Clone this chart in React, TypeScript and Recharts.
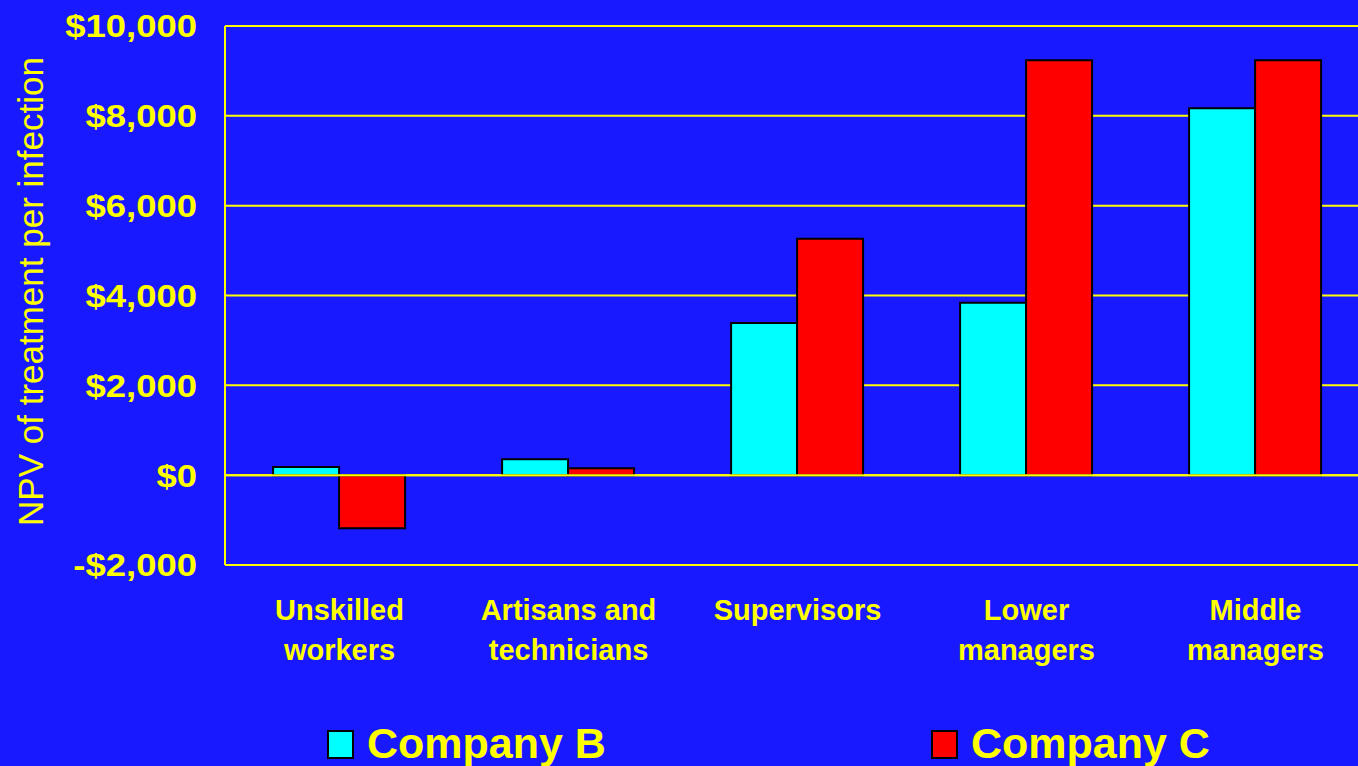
import React from 'react';
import { BarChart, Bar, XAxis, YAxis, CartesianGrid, Legend, ReferenceLine } from 'recharts';

const categories = ['Unskilled\nworkers', 'Artisans and\ntechnicians', 'Supervisors', 'Lower\nmanagers', 'Middle\nmanagers'];
const companyB = [180, 355, 3390, 3840, 8170];
const companyC = [-1180, 155, 5265, 9240, 9240];
const yTicks = [-2000, 0, 2000, 4000, 6000, 8000, 10000];
const seriesNames = ['Company B', 'Company C'];

const BG = '#1919FF';
const YEL = '#FFFF00';
const FONT = '"Liberation Sans", Arial, sans-serif';

const data = categories.map((c, i) => ({ cat: c, b: companyB[i], c: companyC[i] }));

const fmt = (v: number) => (v < 0 ? `-$${Math.abs(v).toLocaleString('en-US')}` : `$${v.toLocaleString('en-US')}`);

const XTick = (props: any) => {
  const { x, y, payload } = props;
  const lines = String(payload.value).split('\n');
  return (
    <g>
      {lines.map((l, i) => (
        <text key={i} x={x} y={y + 55 + i * 40} textAnchor="middle" fill={YEL} fontSize={29} fontWeight="bold" fontFamily={FONT}>
          {l}
        </text>
      ))}
    </g>
  );
};

const YTick = (props: any) => {
  const { x, y, payload } = props;
  return (
    <g transform={`translate(${x},${y}) scale(1.14,1)`}>
      <text x={0} y={0} dy="0.355em" textAnchor="end" fill={YEL} fontSize={32} fontWeight="bold" fontFamily={FONT}>
        {fmt(payload.value)}
      </text>
    </g>
  );
};

const LegendContent = () => (
  <svg width={1358} height={56} style={{ display: 'block' }}>
    <rect x={328} y={21} width={25} height={27} fill="#00FFFF" stroke="#000" strokeWidth={2} />
    <text x={367} y={48} fill={YEL} fontSize={43} fontWeight="bold" fontFamily={FONT}>{seriesNames[0]}</text>
    <rect x={932} y={21} width={25} height={27} fill="#FF0000" stroke="#000" strokeWidth={2} />
    <text x={971} y={48} fill={YEL} fontSize={43} fontWeight="bold" fontFamily={FONT}>{seriesNames[1]}</text>
  </svg>
);

export default function App() {
  return (
    <div style={{ position: 'absolute', left: 0, top: 0, width: 1358, height: 766, background: BG, overflow: 'hidden' }}>
      <BarChart width={1370} height={766} data={data} margin={{ top: 26, right: 0, bottom: 0, left: 0 }} barCategoryGap="21%" barGap={0}>
        <CartesianGrid vertical={false} stroke={YEL} strokeWidth={2} />
        <XAxis dataKey="cat" height={201} axisLine={{ stroke: YEL, strokeWidth: 2 }} tickLine={false} tickSize={0} tickMargin={0} tick={<XTick />} interval={0} />
        <YAxis
          width={225}
          domain={[-2000, 10000]}
          ticks={yTicks}
          tickFormatter={fmt}
          axisLine={{ stroke: YEL, strokeWidth: 2 }}
          tickLine={false}
          tickSize={0}
          tickMargin={28}
          tick={<YTick />}
          label={{
            content: (p: any) => {
              const vb = p.viewBox || { y: 26, height: 540 };
              const cx = 43;
              const cy = vb.y + vb.height / 2 - 4;
              return (
                <text x={cx} y={cy} transform={`rotate(-90 ${cx} ${cy})`} textAnchor="middle" fill={YEL} fontSize={35} fontFamily={FONT}>
                  NPV of treatment per infection
                </text>
              );
            },
          }}
        />
        <Legend layout="horizontal" verticalAlign="middle" align="center" wrapperStyle={{ top: 710, left: 0, width: 1358, height: 56 }} content={<LegendContent />} />
        <Bar dataKey="b" name={seriesNames[0]} fill="#00FFFF" stroke="#000" strokeWidth={2} isAnimationActive={false} />
        <Bar dataKey="c" name={seriesNames[1]} fill="#FF0000" stroke="#000" strokeWidth={2} isAnimationActive={false} />
        <ReferenceLine y={0} stroke={YEL} strokeWidth={2} />
      </BarChart>
    </div>
  );
}
